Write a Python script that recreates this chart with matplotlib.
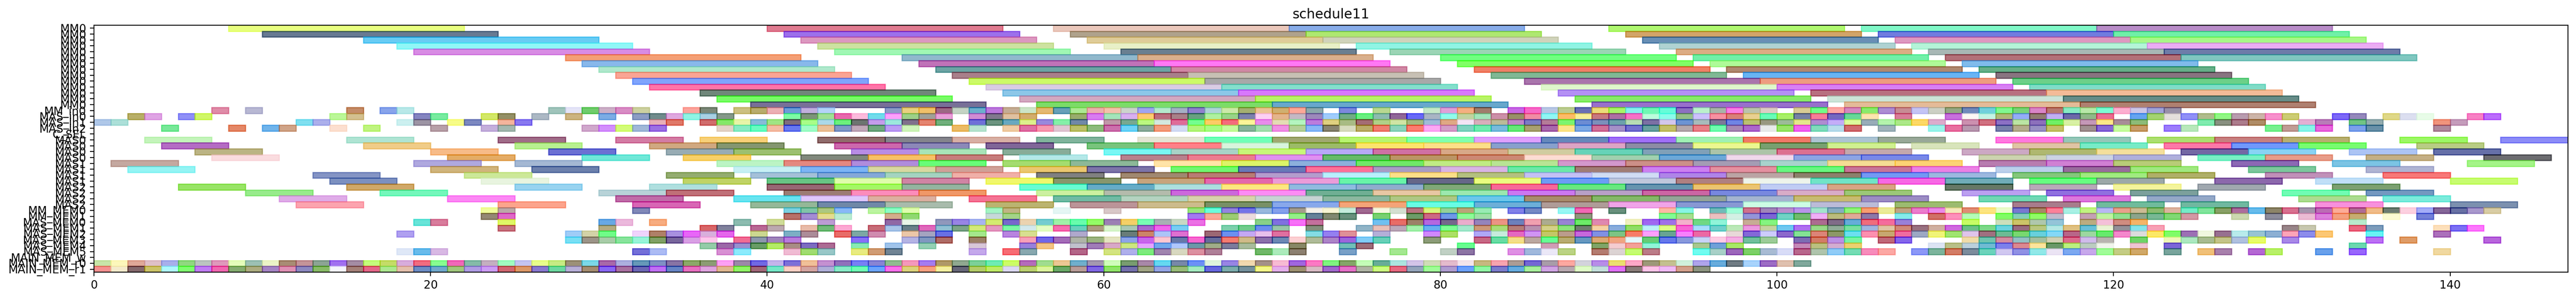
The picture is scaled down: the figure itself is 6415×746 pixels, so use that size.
import matplotlib
matplotlib.use("Agg")
import matplotlib.pyplot as plt
import numpy as np

labels = ["MM0"]*14 + ["MM_in0","MAS_in0","MAS_in1","MAS_in2","C_SEL"] + ["MAS0"]*4 + ["MAS1"]*4 + ["MAS2"]*4 + \
         ["MM_MEM0","MM_MEM1","MAS_MEM0","MAS_MEM1","MAS_MEM2","MAS_MEM3","MAS_MEM4","MAS_MEM5","MAIN_MEM_w","MAIN_MEM_r0","MAIN_MEM_r1"]
xticks = [0,20,40,60,80,100,120,140]
title = "schedule11"
MM_DUR = 14
MAS_DUR = 4
PORT_DUR = 1

# each entry is  start:colour as seen on white
r00 = "8:E8FF80 40:E07B90 57:EAC8BC 71:88ACE8 90:B0F870 105:80F8C8 119:B88CC8".split()
r01 = "10:687A92 41:9C70EC 58:AFA28C 72:AEE870 91:D2A468 106:707CE0 120:70F0A8".split()
r02 = "16:68CCF5 42:DD98C0 59:DFCC98 73:D0D3BC 92:688FB5 107:DE98C0 121:A8F888".split()
r03 = "18:90F8F8 43:CEE2A0 60:E8F0C8 75:90F4E4 93:B0D2D2 108:B4F4D8 122:ECACF4".split()
r04 = "19:D88CE4 44:A0F8B4 61:6A7F90 77:9BD5B6 94:DCAC84 109:A8B8B6 123:6E7CAA".split()
r05 = "28:F59F75 48:90B8CC 62:DAB08C 80:70FF80 95:70F0A8 110:B27078 124:80C8C0".split()
r06 = "29:88B8EC 49:C072B8 63:FF78F4 81:80FF60 96:B0FA98 111:80BCEC".split()
r07 = "30:B0E8CC 50:6CA4A4 64:D088A4 82:F08058 97:B08870 112:60B088".split()
r08 = "31:FAA494 51:A87F8A 65:C8C0B4 83:80B894 98:68B4F4 113:887480".split()
r09 = "32:80A4FC 52:CCFA68 66:A8A8A8 85:AA74AC 99:EE9C80 114:6CD088".split()
r10 = "33:FF74A8 53:DACCE4 67:84E0CC 86:E0F8CC 100:D880F4 115:80DCC8".split()
r11 = "36:70877A 54:8CC8E8 68:D878FC 87:B490F4 102:B87080 116:F4BC98".split()
r12 = "37:78FC48 55:D4A8C0 69:B8F45C 88:88EC68 103:CCE4D8 117:668C88".split()
r13 = "39:787098 56:7CDC68 70:68A8CC 89:9870CC 104:E4BC98 118:B08070".split()

r14 = """7:E08CA8 9:B8B8D4 15:C48C68 17:88A4EC 18:B8E8E8 27:A0C4BC 28:E4E4F8 29:70CC6C 30:CCB0C8 31:D88CC4 32:CCD0A0 35:FCA49C 36:7C8878
38:CCC080 39:B8AC6C 40:ECB0B4 41:6C9CD8 42:C0B0DC 43:B4D4F8 47:8C9CC8 48:E8D080 49:F0C068 50:9C6884 51:C4D4C4 52:6CB0CC 53:BC78DC 54:C4AC94
55:CCE4C8 56:E4B870 57:64A0B8 58:ACE894 59:ECB0B0 60:F4C0AC 61:CCD4CC 62:A0A4F0 63:B4E8CC 64:A4B0C4 65:9080CC 66:B0D4D8 67:CCE8A8 68:A4B070
69:ECC494 70:D0B070 71:FCA898 72:8CA8AC 74:7C88DC 76:B8D890 79:C4E8C8 80:E0A0D8 81:F4B080 82:A07C6C 84:C868E4 85:F868C8 86:B8C8E4 87:BCCC90
88:6870B4 89:ECDC78 90:A8F468 91:88F0EC 92:70F8B4 93:60FCD8 94:8C70C0 95:BCF0CC 96:A8B4A8 97:F880E4 98:BCC4AC 99:DCCCC4 101:D8CC94 102:70FC88
103:FCA8A4 104:D488C0 105:88EC6C 106:AC8CD4 107:C88C94 108:C4C4F4 109:CCD0C4 110:94A884 111:7088BC 112:70D0DC 113:80F890 114:78D478 115:D884C8
116:B87870 117:88ECC4 118:B8E8A8 119:7CFCD4 120:FCB0D0 121:CCC8E8 122:A0A4D8 123:9890A8""".split()
r15 = """2:B8B068 3:E0A4E4 5:9090F8 6:D0F868 14:BCF898 15:D4C090 19:8484C0 20:78ECA0 23:D4E868 24:949060 26:ACB8C4 28:CCB480 30:7CACE4 32:8C9CC4 33:708C8C
34:E0A8E0 35:90F4E4 36:A8D0E4 37:849888 41:7CFCA4 42:7C9478 43:A0E094 44:E868AC 45:FCBCDC 46:70DCEC 47:FCA0FC 48:9CD088 49:A0A098 50:E8A0D8 52:D08CD4
53:80788C 54:E0C0A0 55:D4AC6C 58:98AC6C 59:D87CF0 60:A4E4BC 61:D8B0F0 62:FCCC70 63:BC6C7C 64:A88088 65:68A080 66:B0F0A0 67:98D488 68:7C80AC 69:FCD0F4
70:E4B48C 71:C4B8C4 72:9C88BC 73:A0CCFC 74:70AC84 75:68F080 76:8CBCB0 77:906498 78:6868F8 79:A8B4C4 80:90FCEC 81:C0D4A0 82:A4E4BC 83:CC90A8 84:989068
85:F08CA4 86:90F8F4 87:FCBC68 88:F8F098 89:C87880 90:AC70A4 91:F870C8 92:BCFCDC 93:8CFCEC 94:94C088 95:CCC0FC 96:F890A0 97:D88078 98:E8D090 99:68FCB8
100:A8F068 101:7480A4 102:F87C98 103:7468C0 104:60D898 105:FCE4B0 107:D87C98 110:C870DC 111:FCF8F4 112:C4F4E4 113:B0B878 114:94ACF8 115:907C70 116:C0B0F4
117:6C68A8 118:90B888 119:EC6C90 121:64A4F0 122:A4D470 123:E4E0DC 124:9090F8 125:B0BC8C 126:90F884 127:B89CB0 128:CCB4A8 129:F890CC 130:CCCC74 133:7C68F8
134:9488BC 136:E0D888 137:DCE0F0 138:E8FCE8 141:F880C4 142:BC6CFC""".split()
r16 = """0:B0C8E8 1:ACE0D8 12:80E0F0 13:ACB0EC 18:CCF0F0 19:9C94A4 21:F8FC88 22:7C88C0 24:F4B49C 25:8878F0 33:E8B0B8 34:E07868 36:D06C6C 37:84E868 38:E8F4A8
39:88BCD8 40:A0E484 41:806C7C 42:A8FC88 43:ACD8E8 44:6CF07C 45:6C7470 46:C49CEC 47:9CE8DC 48:80708C 49:E48470 50:70B07C 52:7070D8 53:6C9480 54:68A8C0
55:DCF08C 56:9888DC 57:84F0A8 58:7088A8 60:C098A8 61:78A890 62:BCF880 63:D4E8E0 64:E06C98 65:74FC90 66:FCCC60 67:F46C7C 68:FCF498 69:E88CEC 70:E4DCB4
71:B4F4C0 72:BC7CDC 73:E0D080 74:A8BC84 75:A46C74 76:B0D088 77:D0E4A4 78:A4B880 79:A0BCD8 80:E0A884 81:F4E4F4 82:D8AEBC 83:BCBC98 84:C088C8 85:7C7CC4
86:B47C98 87:7CF470 88:6C8CD4 89:7C90BC 90:6CA0AC 91:B8DCB4 92:7C70A4 93:D4C8EC 94:6C94D4 95:A8BCBC 96:7C7898 97:7084E4 98:BCC070 99:989880 100:9CBC98
101:E4E88C 102:B08CD0 103:C4ACF8 104:DCFC9C 105:98ACB8 106:B4F4AC 107:ACE888 108:FCD864 109:DCACCC 111:CC90B0 112:D07080 113:8C70C4 114:BCE4A4 115:8C70BC
116:70F060 117:D8F0A4 118:C498B8 119:FCE888 120:A88C98 121:8CBC78 125:80ECB0 126:889080 127:AC7C8C 128:B08C64 131:E4B0D4 132:B87CB8 134:70C484 135:94ACB0
139:F0947C 140:C49CBC""".split()
r17 = """4:78E898 8:E48868 10:70B4EC 11:D0A488 14:FCE0D0 16:C0F480 20:B8A0A8 23:C4B0DC 24:A4B8B0 29:D0A8CC 30:D490FC 31:D4FC78 32:A0B8D8 33:9C70E4 37:E4D4C8 38:88ECC4
39:68FCC0 40:F4BCA4 41:6878F0 42:A0FCC8 43:ECC098 44:8098C8 45:C0A8B8 46:70A880 47:BC9CF4 48:D0F4BC 51:ECBC64 52:B8E4D0 54:F0CCA4 55:E070A4 56:F898B0 57:E0C8D4
58:BCC068 59:8CBC7C 60:CC70AC 61:6CD4F8 62:8CAC9C 63:F49C7C 64:D4DCF4 65:B4F47C 66:A8FC84 67:C4FC9C 68:88B49C 69:A4E0B0 70:F090E4 71:B4D098 72:88B8F8 73:888470
74:D8DCC0 75:BCAC68 76:F07C70 77:8CD4BC 78:FC7C70 79:FCA8F4 80:D49CC8 81:80D4C0 82:70ECB0 83:78BCDC 84:64E878 85:A8A070 86:A868AC 87:FCE48C 88:7CA8E4 89:D07098
90:A490C8 91:7470D0 92:68A0A0 93:C4C068 94:B4A8AC 95:E88088 96:70FCB0 97:A888B4 98:AC60CC 99:E8EAEA 100:98E468 101:F060F0 102:80DCBC 103:B8DCEC 104:D06C70 106:A0B4BC
109:9CF4EC 110:E870A0 111:B898B0 113:7880AC 114:B4AC8C 115:9890C4 116:C4C068 118:A09090 119:8868D8 120:C8FCA0 121:C89C68 123:9C7CFC 124:B8E8BC 129:78F090 130:C09C94
131:88F4E8 132:E868DC 134:7CA0EC 135:6890A8 139:B0889C""".split()

r19 = """3:C4F4BC 15:B0E4D4 24:A06C88 31:D47CA4 36:F8D078 43:906C6C 47:84848C 51:D8B0A4 56:80B49C 62:E4E4D4 66:70FFB8 70:A0A870 74:B8F470 78:80FFB0 82:E0A0FC
86:6688BC 90:A070F8 94:A0F0B4 98:F07868 102:ACC4D4 106:98A898 113:FF78E0 117:94C8B8 122:ACE070 126:C88080 130:B8B070 137:9CF864 143:8C8CF8""".split()
r20 = """4:B46CC4 16:F0CC88 25:B8F090 33:D0A880 37:849670 44:CC68AC 48:8C88B8 53:806698 59:78C47C 63:FF8088 67:D8F4DC 71:9CBC68 75:FCE46C 79:FCE088 83:88A0CC
87:DCA4C4 91:8C8CA4 95:ECF890 99:78A070 103:D0F090 108:D8E4BC 114:E0C4A4 118:78ECC8 123:FC78A8 127:7098FC 131:78FC70 138:B8CC84""".split()
r21 = """6:BCB484 20:F8BC88 27:6C70D4 34:98ACB4 38:9CC070 45:B88CE4 49:A8E4B8 54:88AC98 60:78F8F4 64:A8D4C8 68:C8F878 72:B8A8F8 76:D070A4 80:D8A888 84:D0CCA0
88:60D4B8 92:80A0B8 96:ACC4A8 100:DC7090 104:C4A8AC 111:CCA8C4 115:B0B870 119:F4E09C 124:7468A4 128:88D4F4 134:ACC4F4 139:6670A8""".split()
r22 = """7:FADCE0 21:E4AC64 29:70E8D8 35:F8D068 42:80887C 46:F8C060 50:C87C7C 55:B4E8E8 61:B8808C 65:EC7C90 69:E090F0 73:60BC68 77:BC9464 81:CC8874 85:FCDCD4
89:A0D0B0 93:6CA8D8 97:F0D8EC 101:8CA4E4 105:7888E8 112:CCD4B0 116:CCD4E4 120:B0B0DC 125:78F0C4 129:E89C88 135:C4B084 142:6C6C70""".split()
r23 = """1:C4A8A0 19:B0A8E0 25:A4B8D4 37:BCF4C4 41:E48880 45:B08CDC 49:68FC78 54:A4DC70 58:8CB898 63:FFE4A8 67:DCF468 71:8CB0DC 75:70E868 79:C0EC84 83:B8E494
87:D498CC 91:CC9088 95:A49CB4 99:A8D4CC 103:F4DC94 107:FCD474 112:B87CB0 116:D080D4 120:B8CC78 127:8C68B4 133:7CC4E4 141:A4F488""".split()
r24 = """2:94F4F4 20:D0B47C 26:6C80AC 38:C8F0F4 42:7CB4F4 46:D8D8A0 50:D0A098 55:ECC870 59:7C74A8 64:70F870 68:6878B8 72:FC7098 76:A89CC4 80:D8B4E4 84:6CE8A8
88:A07C74 92:CC80F0 96:E490A0 100:68F880 104:C87498 108:EC80E4 113:BCD0EC 117:986C9C 121:A0E880 128:7CC89C 135:B0B4D4""".split()
r25 = """13:8494C4 22:CCE898 34:94AC70 39:A4C0D8 43:84A8D8 47:A4D4C0 51:F0B0A8 56:808080 61:A08870 65:B87C74 69:B49CCC 73:B8F0FC 77:FCE088 81:B4C080 85:C4C0F4
89:D0DCF4 93:B084E8 97:BCA4A4 101:8C806C 105:7498F4 109:9CB8E0 114:84C87C 118:A0EC80 122:B0B068 129:C090B8 136:F87878""".split()
r26 = """14:7C90C0 23:E8F4E0 35:C0D45C 40:68C484 44:E0FCAC 48:D084A4 53:F0F86C 57:88966C 62:C8A47C 66:E468AC 70:EC9CD8 74:68F4A8 78:606488 82:ECFC80 86:6C9CF4
90:C0C8DC 94:B08080 98:EEF4EC 102:70E4C8 106:F868E4 110:70ACB8 115:60FC80 119:9CA8A8 126:8C68AC 132:C0E0F8 140:C8FC70""".split()
r27 = """5:98E450 15:D0A868 25:98D4F0 33:B0E0E0 40:985C74 44:A4F860 48:94B4A0 55:68FCD4 59:60ACC8 63:ACE0E0 67:FCE880 71:90BCE0 75:90ACCC 79:80A878 83:F86898
87:68E880 91:6494B0 95:ECC470 99:C0CCF4 103:D8A484 110:607860 115:B8A8B8 120:F4F49C 125:A0A8B0 133:7CA070""".split()
r28 = """9:98EC8C 17:74F8BC 30:B8D4D8 34:C07078 41:9C7C74 45:FC8CBC 49:F09868 56:CCF0A0 60:B4BCAC 64:CC68DC 68:FC8CF4 72:70B094 76:E8C8A4 80:9CE8B0 84:CC78F0
88:B8A0C8 92:CC64A4 96:7888E0 100:D8ACC8 104:9CC878 111:BCA0F0 116:9070E0 121:7CA09C 130:70FCB4 135:7498C0""".split()
r29 = """11:E0ACE8 21:FC88F4 31:C06CA8 38:68E4F0 42:E0C8FC 46:DCB0A0 52:F47494 57:70BCA4 61:B4D4C0 65:D8D4AC 69:C8D4D4 73:8CB8A0 77:B0C884 81:6CC8EC 85:A88C6C
89:84B868 93:94A498 97:A4B4D0 101:C8BC70 105:9C8CC4 112:70D8B4 117:DC78DC 122:94A8C8 131:ACDC90 136:7CECDC""".split()
r30 = """12:FCA4B0 24:FCA48C 32:D864B4 39:94B898 43:7088A8 47:A8BCAC 53:BCB470 58:BC9498 62:CCBC8C 66:789060 70:88A8EC 74:F4A478 78:68FCE4 82:6CB0D8 86:B09C98
90:F0A4E8 94:8898D4 98:CCFCE4 102:BCBCD8 107:9CBC70 114:A87C8C 119:70BC9C 124:70B8A0 132:F890DC 140:7C90B0""".split()

r31 = """23:F0FC9C 24:BCA8A8 32:8088B8 41:7CD0E0 42:80C4A8 43:ACC880 44:88B8F8 46:BCF4A0 47:8CFCC4 48:E0FCB0 53:A4F4C4 54:C0B484 57:E4F6F4 60:D8C8C8 65:98E47C
66:6CFCDC 67:9484E0 68:7474E8 69:98B8DC 70:84A0EC 71:A49C8C 72:F4F0E8 73:F8F4D4 74:C4ECDC 75:A06890 76:F4F8E0 77:D4E0D0 78:B87480 79:D8F47C 80:94D098
81:BCA478 82:98ECB4 84:8080E8 85:7488C4 87:98F8F4 88:F068B4 90:68907C 93:FCB8A4 94:88F4E4 96:70BCB8 97:A0FCD8 98:D0708C 99:A084B8 100:B890CC 101:B894E8
102:A4E4CC 103:88ACC0 104:90F478 105:F89C70 106:ECEC98 107:C0A484 108:EC7CCC 109:EC88E8 110:F4E8BC 111:E08C74 112:FCE480 113:ECFCCC 114:7878D0 115:A88868
116:FC8098 117:A8F0E4 118:C0F480 119:B8B8F4 120:E8A08C 121:CCBC94 122:8CBC70 123:DCB4A0 124:74ECC8 125:80E49C 126:88A064 127:AC6C9C 128:60BCEC 129:8C8468
130:D87090 131:A494AC 132:BC6CB4 133:FCAC98 134:B06C94 135:F0BC88 136:6C7C70 137:FCD0E0 138:A4ACF8 139:846098 140:6870A4 141:A898CC 142:D8CCA4""".split()
r32 = """23:948874 24:E068C8 41:B87068 42:A48CD4 43:E4DC90 44:BCECD4 47:D4AC8C 48:90D870 53:C8D8D8 54:A4D488 65:A478F0 66:FCA898 67:9CCC74 68:ECDCDC 71:94F088
72:648098 73:808870 74:68907C 76:78D070 78:6C9C68 79:CC6884 80:7098E8 81:8CFC98 82:A0E0A8 88:909480 93:80FC94 94:A4E090 96:ECC0C0 97:D4F0E4 98:9494D8
99:7C60D4 100:70D4C4 101:70BC6C 102:F0B0F8 103:BCBC7C 104:E0A898 105:8C78A8 107:84ECEC 109:D07060 110:FC90BC 111:B4FCB8 113:80FC60 114:84D0B8 115:90FC60
116:C0BCCC 118:C4A0B4 119:C0F4A0 120:90E090 121:8CA48C 122:78B894 123:80D874 124:D498A4 127:CCD8B0 129:8C8C9C 131:ECBCD4 132:DC80DC 133:F4A080 134:C8AC70
136:FCFCD4 138:7480D8""".split()
r33 = """19:68E4D8 20:D87C9C 24:E0F860 30:68A8E4 31:ECB8DC 33:F8AC80 38:8CBCB0 40:D0DC98 43:BC9CD4 47:9068A4 48:E8F8E8 50:9098BC 51:9884E4 52:A8B4F0 53:D4EC70
54:7868CC 55:ECD4B0 56:74CCD0 57:A0F0A8 58:68FCAC 59:94FC60 60:9C80B4 61:F4D068 62:78FCB4 63:A8B0B4 64:C8D8C4 65:EC70E4 69:88D088 70:8070E0 71:F870F8
72:C4709C 76:70C0F0 77:E86C60 78:9C8068 79:B468E0 80:74688C 81:ECACCC 82:9484BC 83:EC9484 84:6C80BC 85:F0A0B0 86:ACAC90 87:9884D4 88:6CEC68 89:E088B0
91:F0F0C0 92:A068F0 93:A070E8 94:F4B0CC 95:70D884 96:90F4D8 98:C8AC94 99:84F480 102:AC6C90 103:806C88 104:60ACD8 105:F06C7C 106:F46C9C 107:9880D8 111:C8FC64
113:CCE0BC 114:CCC468 115:B0C8AC 116:94C4D8 118:BCAC80 119:F4C0D8 120:D08C80 121:F4B468 134:B8ECCC""".split()
r34 = """24:C87480 30:B4AC80 36:D86468 37:80809C 39:B86894 40:BCA8B0 42:E8BCA8 43:70BC78 44:FCA8D4 46:C86C78 47:A8C4E8 48:688088 49:E068BC 50:90C0D4 51:7CA488
52:D4EC78 53:E498C0 54:7CF8A4 55:D4E8EC 56:E4FCC4 57:F86CB0 58:68D0BC 59:AC9C80 60:D8F4CC 61:A8C8B4 62:A868CC 63:F064EC 64:78CCF4 67:7CD0AC 68:70CC8C
69:6C8CF0 70:98C4A8 72:84907C 75:90B4C8 76:E8C0B8 77:BCA8B8 78:A4F0AC 79:68B0F0 80:7CFC94 81:A4E8CC 82:CC9878 83:A8DC78 84:B47C78 85:B890B0 86:D4D088
87:8CE47C 88:707C70 89:F4D0A4 90:88ACDC 91:90DC60 92:BCF0F8 93:E0FC84 94:F860D4 95:A8DCFC 96:70D0CC 97:BCE8B8 98:EC98E0 99:C4D4A0 100:70C8F0 101:B070F0
102:98D888 103:90AC98 104:78E0A0 105:A0B4E0 106:E0C4A4 107:D08878 108:987080 109:D0B0A0 110:D068E0 111:6CC088 112:7CD888 113:6CD4E0 114:986C80 115:B8C880
116:B4E8E4 117:E0C080 118:68C0D8 119:E8F4D4 120:949098 121:84E4EC 122:F8A0B4 130:988488 131:C8C8B0 134:EC6880 135:7C9CBC 139:FCE0BC 140:7C70F4 141:FC78FC""".split()
r35 = """18:B0A0F0 28:A0CCF8 29:D4D4A8 30:70FC88 32:F0D4FC 33:B08068 34:A890E0 35:E860F8 36:D8B0DC 37:E460EC 39:CCD890 41:7CB0C4 42:AC8C98 44:E86C68 45:7CA8A4
46:D08CB0 48:ECC8A8 49:A4A4C0 50:6870E4 52:A4E88C 54:B884E0 55:D8E090 58:B0A8CC 61:687C78 62:CC8468 63:ACC4F8 64:E070D0 66:9C6874 67:6C90F0 68:C4A8F4
69:E8C0EC 70:E070A0 72:84DCE4 73:9480F0 74:E09098 76:B4B0D8 79:D088FC 80:ACE060 82:B0A8F8 83:C8ECDC 84:E468C0 85:D094F4 86:C4C860 87:BC9C8C 88:C868DC
89:8090E4 90:7CC484 91:F87C68 92:FCA0FC 93:68A494 94:F880FC 95:EC68A4 97:E8D8D8 98:8468D8 99:CCCCFC 100:8C68CC 101:84E494 102:DC8478 103:8C9860 104:6CE0F0
105:FC90B0 106:C8A870 107:F06CA0 108:9CA8C4 109:F0F478 110:A0E470 111:E0C4EC 112:A07080 113:6CBC94 114:78D870 115:68D0DC 116:84D8F8 117:B86088 118:9CD8A0
119:64EC6C 120:F488CC 121:DCDCDC 122:FCE864 123:80FC68 124:9C70B4 125:F0F8E0 126:987090 127:B8ECEC 128:98C4D4 129:8CB0D4 130:FCA4B8 131:8C8CEC 132:FCC874
135:68F4F4 139:AC70BC""".split()
r36 = """28:78E0F4 29:9C9488 30:A8CCA8 31:88E49C 32:98F4D8 33:80A060 34:785C9C 35:D8A0E4 36:FCC8EC 38:F06C94 39:8C98AC 40:A084BC 41:B87CDC 45:8870F8 48:B4B4E4
49:8098C0 50:B06C60 52:9C8060 55:F8A0B8 56:7064E8 57:A46CB8 58:B0B4A8 59:9CB480 60:E4E4C0 61:8CA4E8 62:C860EC 63:FCC8D0 64:6078A8 65:F868D0 66:5C6C9C
67:F47C70 68:D0BC88 69:8C70AC 70:6C88B4 71:FCD0D4 72:B0BC98 73:AC84C8 74:9C58DC 75:80CCF8 76:68D0B8 79:8C9C78 82:C86884 83:68DCA4 84:F4E088 85:BCA8A0
86:68FC94 87:B8AC70 88:6098C0 89:DCA874 90:F0A480 91:E4F8FC 92:64CC74 93:6478EC 94:8898DC 95:C8D4F8 96:FCCCE4 97:F4B0E4 98:70C09C 99:9CCC98 101:7C6CB4
102:D47C60 103:BC90E4 104:78F4A4 106:C06878 107:8458EC 111:F0DCA8 112:70C4B0 113:D48CA0 114:94C0C4 115:A4C0A0 116:D0D0B4 117:DC6C8C 118:D0BCEC 119:B8B4B0
121:70D468 123:F0F8B8 124:ACE8C0 125:A8BC90 126:C4C488 127:B0C0E0 128:E8FC68 130:A888E8 135:BC70F4 137:E09C68 142:B860DC""".split()
r37 = """36:94CCA8 37:9C68A8 38:9890D0 39:689C64 40:B4EC60 41:A88C84 42:7C6CC0 43:AC6C94 45:88ECB4 47:A0C4EC 49:94D0B4 52:D8C8D8 55:9880DC 56:F4C484 58:C0C0CC
59:A07CB8 60:D8A8C8 61:CCE880 62:E4A4FC 63:70A8EC 64:B0C8FC 65:6C98A8 66:A0AC88 67:7C7C9C 68:A8BC9C 71:888860 74:70C0B8 75:9C6C78 81:68FC90 86:D09CB4
89:80A468 90:F4CCD0 91:F4A098 92:90F4D8 95:A8C890 96:70A0D8 97:A8E860 101:C488B8 102:BCC080 103:D4ACD0 104:ECD070 109:DCE4F4 110:B8C088 111:BCD0DC 112:70BCD4
113:7C80EC 114:DC8890 115:FCE49C 116:689868 117:BCF080 118:BCCCC0 119:F0F4EC 121:F0C4D4 123:7C64D8 134:6CD8B0""".split()
r38 = """18:E0E8F8 19:68BCEC 20:D8B8E4 32:7470D8 33:ACBCF4 37:D890D4 38:8CECFC 41:F0BCD4 42:A0DC70 43:98C8C8 45:E8EC80 46:D09C74 47:708494 52:C4A8EC 54:F86C74
55:88A8B0 58:B46488 60:D4E480 61:B0B0EC 62:7CEC7C 63:A084B0 64:D8D8C0 65:DC90A0 66:B08098 69:70B868 70:ACECBC 71:8C8070 74:78A0C8 77:A4E890 80:C0D0C4
81:8C74A4 84:E090E4 85:A0B8DC 86:ECE8F8 87:BCD484 89:B47C70 90:DCD4D4 91:C4FC70 92:BC7C88 95:70FCF0 96:A8D0C8 97:9C64BC 98:7CD064 99:A8BCD4 100:D8DCF8
101:B8648C 102:B0C4AC 103:90CCF8 104:74DCB4 105:F88CBC 106:FCA8A4 108:8C98F8 109:7CB49C 110:D47C5C 111:7C8C9C 112:6CD4BC 113:D0C8F0 114:9090E4 115:90E8E8
116:ECE4F4 117:7CA8F0 118:C8A8EC 119:A0FC98 120:C4CC84 121:D0A868 123:78A49C 125:F0C078 126:A880AC 128:B468D4 129:B8F068 132:68A0EC 134:9860FC 139:F0D8A0""".split()

# consecutive read ports, one bar per time step from 0
r40 = """C8E4A8 FCF8BC E0A898 E0C0C8 A8B0EC 90D880 BCC4C0 E098BC E4FCBC 9CC0B4 ECF4C8 A88C74 C49498 8CA494 A070F0 A48CA4 C4FC7C C4DC68 D8ACDC F06C80
88FC90 F068B8 84BCA8 C4B0C0 A0FCC0 C4C4F0 E8FC8C C8EC84 9C9078 7CD8E8 A868A8 ACB0E0 6498B8 8090C4 8874A4 8CA868 8C9C74 FCA0F4 9C88A8 7068E4
C4B4EC 7C70D8 F0C098 C490D0 9070BC 7880F4 8884D4 90BC90 F498BC A47CF0 B09868 90A890 7CD098 70ECB4 CCFC5C B46CBC A0DC90 ECC894 70B0CC A498B0
D0FCBC 789C70 A888A8 64D8F0 7888A8 6C90F8 E0F4DC 9884E4 F0D8B0 A49088 F8BCD4 A060E0 FC78C4 80F480 84A468 C4FCB8 68AC98 ACE4E0 D4C4E8 D0DCB8
E4BCCC F4E4EC C8B880 F8A4B0 AC9C94 7468D4 A89CA8 FCA8A0 D4D4DC B88CE8 ECE070 FCA8C8 9C9878 C4C090 D0F0DC B0A4EC 68ACDC 707C84 A8D4FC 9C6CC4
E0C0B0 80A89C""".split()
r41 = """F49090 F4ECCC 84686C CCC468 B0F8FC 80FC70 C07CF4 F060B0 84AC70 ACAC80 A484C4 E090B4 8C88C0 88BC64 F4F4FC A48078 E46088 ACE890 E4C0AC 6C8CC4
70A8CC A0C87C B09CE4 CC9CF4 D06070 DC9860 8878D0 6CD8A0 B8B0D8 A48C70 8860F4 A870A0 6C5CB4 C070F4 6484C4 E870C0 E0A4E0 E0B890 90F460 A06478
74E8C8 FCD0C4 D4A4A0 B0B0D8 88ECC8 70FCB4 6CA4FC FC70EC DCD47C F8A080 F4F0A0 646478 B4CC68 C0EC60 DCD8F4 BCD070 DCF49C 68A860 B89C98 8060E4
90E468 7470AC A0A484 94A4E4 98BC78 A4ECC0 6060E0 7CACAC 74909C F4F888 E4B0EC 9C9070 D8BCC4 A068CC E470C8 B0B4A4 CCFC80 E86880 94A4BC A0FC98
B09CD0 6CA0FC 90F8A4 7C7CCC 60ACE0 A8F09C D0A4E4 B8A8B0 E0FCC8 C4E0DC E070F8 887C78 FCC4E8 F0BCF8 D4A08C 8C9480""".split()

ALPHA = 0.6
W, H = 6415, 746
fig = plt.figure(figsize=(W/200, H/200), dpi=200)
ax = fig.add_axes([234/W, 1-679/H, (6395-234)/W, (679-63)/H])


def base(hexstr):
    seen = np.array([int(hexstr[i:i+2], 16)/255 for i in (0, 2, 4)])
    return tuple(np.clip((seen-(1-ALPHA))/ALPHA, 0, 1))


def draw(row, entries, dur):
    for e in entries:
        s, c = e.split(":")
        col = base(c)
        ax.barh(row, dur, left=int(s), height=1.0, color=col, edgecolor=col, alpha=ALPHA, linewidth=1.0)


for row, entries in enumerate([r00,r01,r02,r03,r04,r05,r06,r07,r08,r09,r10,r11,r12,r13]):
    draw(row, entries, MM_DUR)
for row, entries in zip([14,15,16,17], [r14,r15,r16,r17]):
    draw(row, entries, PORT_DUR)
for row, entries in zip(range(19,31), [r19,r20,r21,r22,r23,r24,r25,r26,r27,r28,r29,r30]):
    draw(row, entries, MAS_DUR)
for row, entries in zip(range(31,39), [r31,r32,r33,r34,r35,r36,r37,r38]):
    draw(row, entries, PORT_DUR)
for row, seq in zip([40,41], [r40,r41]):
    draw(row, [f"{i}:{c}" for i, c in enumerate(seq)], PORT_DUR)

ax.set_xlim(0, 147)
ax.set_ylim(41.5, -0.5)
ax.set_yticks(range(len(labels)))
ax.set_yticklabels(labels)
ax.set_xticks(xticks)
ax.set_title(title)
fig.savefig("out.png", dpi=200)
